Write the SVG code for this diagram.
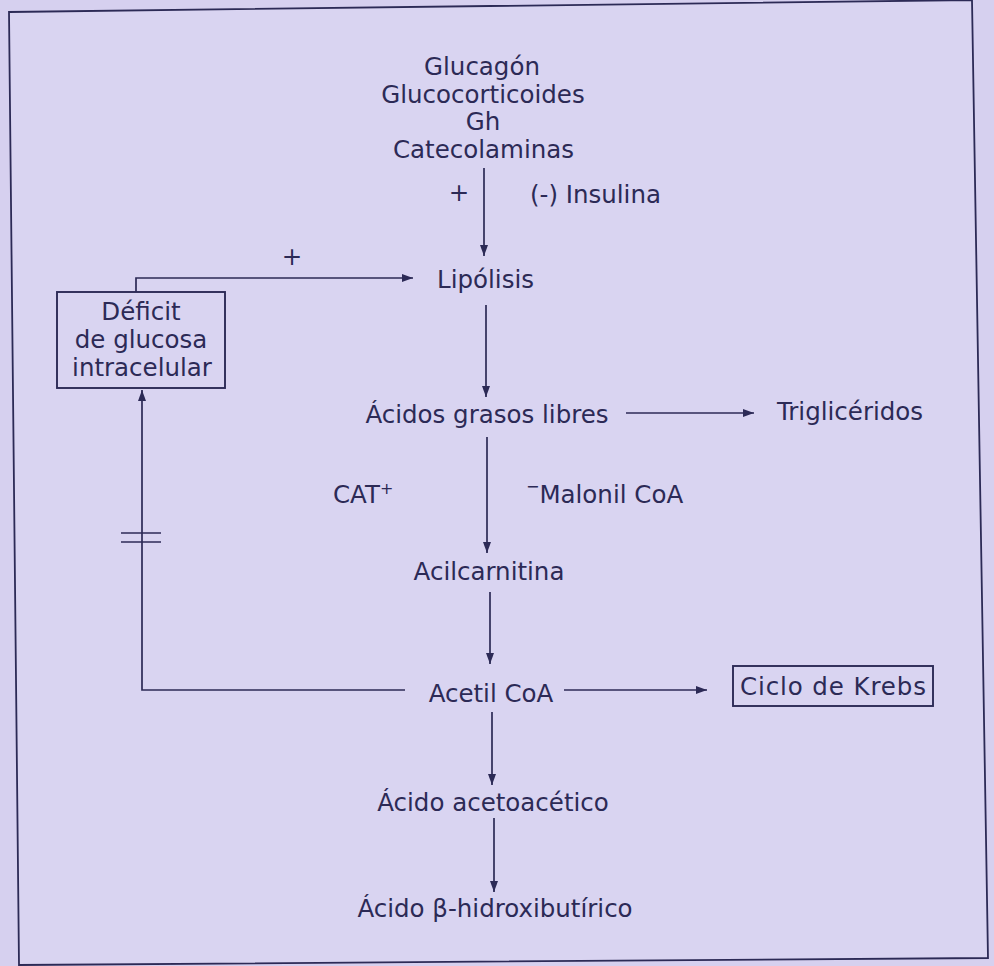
<svg xmlns="http://www.w3.org/2000/svg" width="994" height="966" viewBox="0 0 994 966">
<style>
  text { font-family: "DejaVu Sans", "Liberation Sans", sans-serif; font-size: 24.5px; fill: #2c2a56; }
  .c { text-anchor: middle; }
  .ln { fill: none; stroke: #2c2a56; stroke-width: 1.7; }
  .bx { fill: none; stroke: #2c2a56; stroke-width: 1.9; }
</style>
<defs>
  <marker id="ah" markerUnits="userSpaceOnUse" markerWidth="12" markerHeight="10" refX="11" refY="5" orient="auto">
    <path d="M0,1 L11,5 L0,9 z" fill="#2c2a56"/>
  </marker>
</defs>
<rect x="0" y="0" width="994" height="966" fill="#d6d0ef"/>
<g id="frame">
  <polygon points="9,12 972,0 988,958 19,965" fill="#d9d4f1" stroke="#2c2a56" stroke-width="1.8"/>
</g>
<g id="connectors">
  <line class="ln" x1="484" y1="168" x2="484" y2="256" marker-end="url(#ah)"/>
  <path class="ln" d="M136,292 V278 H413" marker-end="url(#ah)"/>
  <line class="ln" x1="486" y1="305" x2="486" y2="397" marker-end="url(#ah)"/>
  <line class="ln" x1="626" y1="413" x2="754" y2="413" marker-end="url(#ah)"/>
  <line class="ln" x1="487" y1="437" x2="487" y2="553" marker-end="url(#ah)"/>
  <line class="ln" x1="490" y1="592" x2="490" y2="664" marker-end="url(#ah)"/>
  <path class="ln" d="M405,690 H142 V390" marker-end="url(#ah)"/>
  <line class="ln" x1="121" y1="533" x2="161" y2="533"/>
  <line class="ln" x1="121" y1="542" x2="161" y2="542"/>
  <line class="ln" x1="564" y1="690" x2="707" y2="690" marker-end="url(#ah)"/>
  <line class="ln" x1="492" y1="712" x2="492" y2="785" marker-end="url(#ah)"/>
  <line class="ln" x1="494" y1="818" x2="494" y2="892" marker-end="url(#ah)"/>
  <text x="459" y="201" class="c">+</text>
  <text x="530" y="203">(-) Insulina</text>
  <text x="292" y="265" class="c">+</text>
  <text x="333" y="503">CAT<tspan dy="-9" font-size="16">+</tspan></text>
  <text x="526" y="503"><tspan dy="-11" font-size="16">−</tspan><tspan dy="11">Malonil CoA</tspan></text>
</g>
<g id="hormonas">
  <text x="482" y="75" class="c">Glucagón</text>
  <text x="483" y="102.5" class="c">Glucocorticoides</text>
  <text x="483" y="130" class="c">Gh</text>
  <text x="483.5" y="157.5" class="c">Catecolaminas</text>
</g>
<g id="lipolisis">
  <text x="485.5" y="288" class="c">Lipólisis</text>
</g>
<g id="deficit">
  <rect class="bx" x="57" y="292" width="168" height="96"/>
  <text x="141" y="320" class="c">Déficit</text>
  <text x="141" y="348" class="c">de glucosa</text>
  <text x="142" y="376" class="c">intracelular</text>
</g>
<g id="acidos-grasos">
  <text x="487" y="423" class="c">Ácidos grasos libres</text>
</g>
<g id="trigliceridos">
  <text x="850" y="420" class="c">Triglicéridos</text>
</g>
<g id="acilcarnitina">
  <text x="489" y="580" class="c">Acilcarnitina</text>
</g>
<g id="acetil-coa">
  <text x="491" y="702" class="c">Acetil CoA</text>
</g>
<g id="krebs">
  <rect class="bx" x="733" y="666" width="200" height="40"/>
  <text x="833" y="695" class="c" textLength="186">Ciclo de Krebs</text>
</g>
<g id="acetoacetico">
  <text x="493" y="811" class="c">Ácido acetoacético</text>
</g>
<g id="hidroxibutirico">
  <text x="495" y="917" class="c">Ácido β-hidroxibutírico</text>
</g>
</svg>
